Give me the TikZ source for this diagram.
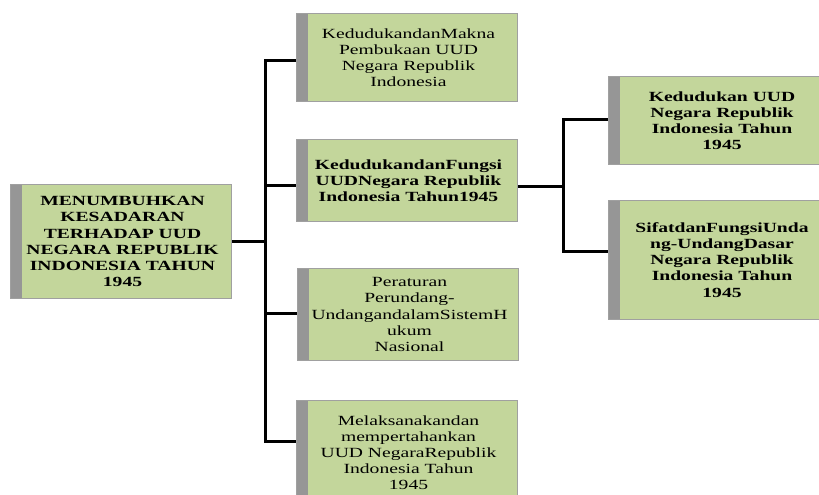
\documentclass[tikz,border=0pt]{standalone}
\usepackage{fontspec}
\setmainfont{Liberation Serif}[FakeStretch=1.4]
\definecolor{boxgreen}{RGB}{195,214,155}
\definecolor{stripgray}{RGB}{150,150,150}
\definecolor{bordergray}{RGB}{160,160,160}
\newcommand{\sh}{\hspace*{3pt}}
\begin{document}
\begin{tikzpicture}[x=1pt,y=-1pt,
  box/.style={draw=bordergray, line width=1pt, fill=boxgreen, anchor=north west,
    minimum width=221pt, inner sep=0pt, align=center,
    font=\fontsize{14pt}{16.1pt}\selectfont,
    path picture={\fill[stripgray] (path picture bounding box.north west) rectangle ([xshift=11pt]path picture bounding box.south west);}},
  boldbox/.style={box, font=\fontsize{14pt}{16.1pt}\selectfont\bfseries},
  conn/.style={draw=black, line width=3pt, line join=miter}]
\useasboundingbox (0,0) rectangle (819,495);
\clip (0,0) rectangle (819,495);
\node[boldbox, minimum height=114pt] (root) at (10,184) {\sh MENUMBUHKAN\\\sh KESADARAN\\\sh TERHADAP UUD\\\sh NEGARA REPUBLIK\\\sh INDONESIA TAHUN\\\sh 1945};
\node[box, minimum height=88pt] (b1) at (296,13) {\sh KedudukandanMakna\\\sh Pembukaan UUD\\\sh Negara Republik\\\sh Indonesia};
\node[boldbox, minimum height=82pt] (b2) at (296,139) {\sh KedudukandanFungsi\\\sh UUDNegara Republik\\\sh Indonesia Tahun1945};
\node[box, minimum height=92pt] (b3) at (297,268) {\sh Peraturan\\\sh Perundang-\\\sh UndangandalamSistemH\\\sh ukum\\\sh Nasional};
\node[box, minimum height=104pt] (b4) at (296,400) {\sh Melaksanakandan\\\sh mempertahankan\\\sh UUD NegaraRepublik\\\sh Indonesia Tahun\\\sh 1945};
\node[boldbox, minimum width=224pt, minimum height=88pt] (b5) at (608,76) {\sh Kedudukan UUD\\\sh Negara Republik\\\sh Indonesia Tahun\\\sh 1945};
\node[boldbox, minimum width=224pt, minimum height=119pt] (b6) at (608,200) {\sh SifatdanFungsiUnda\\\sh ng-UndangDasar\\\sh Negara Republik\\\sh Indonesia Tahun\\\sh 1945};
\coordinate (j1) at (265,61);
\coordinate (j2) at (265,185);
\coordinate (j3) at (265,313);
\coordinate (j4) at (265,441);
\coordinate (jr) at (265,241);
\coordinate (s0) at (563,186);
\coordinate (s1) at (563,119);
\coordinate (s2) at (563,251);
\draw[conn] (b1.west |- j1) -- (j1) -- (j4) -- (b4.west |- j4);
\draw[conn] (root.east |- jr) -- (jr);
\draw[conn] (j2) -- (b2.west |- j2);
\draw[conn] (j3) -- (b3.west |- j3);
\draw[conn] (b2.east |- s0) -- (s0);
\draw[conn] (b5.west |- s1) -- (s1) -- (s2) -- (b6.west |- s2);
\end{tikzpicture}
\end{document}
